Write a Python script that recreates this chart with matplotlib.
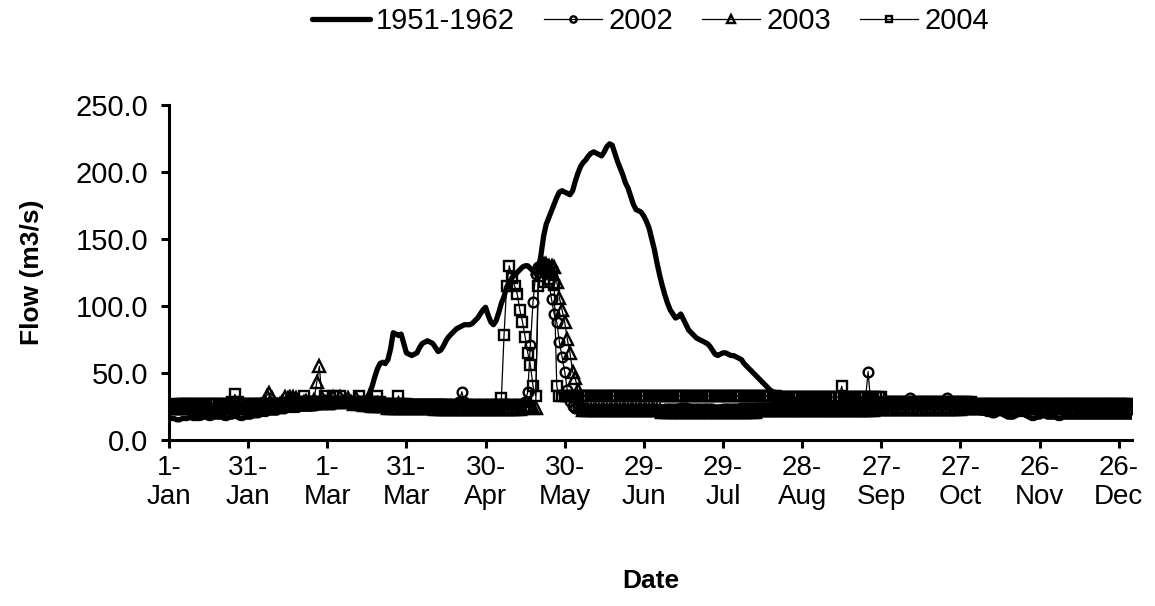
import matplotlib.pyplot as plt

# daily flow, 366 days (1-Jan .. 31-Dec), one row per month
flow_1951_1962 = (
    [17, 16, 16, 15, 15, 16, 16, 16, 17, 16, 16, 16, 16, 17, 17, 16, 16, 17, 17, 17, 17, 16, 16, 17, 17, 18, 17, 16, 16, 17, 17]
    + [17, 18, 18, 18, 19, 19, 19, 20, 20, 20, 20, 21, 21, 21, 22, 22, 22, 22, 22, 23, 23, 23, 23, 23, 24, 24, 24, 24, 25]
    + [25, 25, 25, 25, 26, 26, 26, 26, 26, 27, 27, 27, 28, 28, 29, 31, 35, 40, 47, 53, 57, 58, 57, 60, 68, 80, 79, 78, 79, 72, 65]
    + [64, 63, 64, 65, 69, 72, 73, 74, 73, 72, 69, 66, 67, 70, 74, 77, 79, 81, 83, 84, 85, 86, 86, 86, 87, 89, 91, 94, 97, 99]
    + [93, 88, 86, 89, 95, 102, 107, 114, 118, 121, 123, 125, 127, 129, 130, 130, 128, 126, 124, 126, 138, 152, 161, 166, 171, 176, 181, 185, 186, 185, 184]
    + [183, 186, 193, 199, 204, 207, 209, 212, 214, 215, 214, 213, 212, 215, 219, 221, 220, 214, 208, 203, 198, 192, 188, 182, 176, 172, 171, 170, 167, 163]
    + [158, 150, 142, 132, 123, 115, 108, 102, 97, 94, 91, 92, 94, 90, 86, 82, 80, 78, 76, 75, 74, 73, 72, 70, 67, 64, 63, 64, 65, 65, 64]
    + [63, 63, 62, 61, 60, 57, 55, 53, 51, 49, 47, 45, 43, 41, 39, 37, 36, 35, 34, 33, 32, 32, 31, 31, 30, 30, 30, 29, 29, 29, 29]
    + [29, 29, 29, 28, 28, 28, 28, 28, 28, 28, 28, 28, 28, 28, 28, 27, 27, 27, 27, 27, 27, 27, 27, 27, 27, 27, 27, 27, 27, 27]
    + [27, 27, 27, 27, 26, 26, 26, 26, 26, 26, 26, 26, 26, 25, 25, 25, 25, 25, 25, 25, 25, 24, 24, 24, 24, 24, 23, 23, 23, 23, 22]
    + [22, 21, 21, 20, 20, 19, 19, 18, 18, 19, 20, 19, 18, 17, 17, 17, 18, 19, 19, 19, 18, 17, 16, 16, 17, 17, 18, 18, 17, 17]
    + [17, 17, 16, 16, 17, 17, 17, 17, 17, 17, 17, 17, 17, 17, 17, 17, 17, 17, 17, 17, 17, 17, 17, 17, 17, 17, 17, 17, 17, 17, 17]
)

flow_2002 = (
    [27, 27, 26, 26, 26, 25, 25, 25, 25, 25, 24, 24, 24, 24, 24, 24, 24, 24, 24, 24, 25, 25, 25, 25, 25, 25, 25, 25, 25, 25, 25]
    + [25, 25, 25, 26, 26, 26, 26, 26, 26, 26, 26, 26, 26, 26, 26, 26, 26, 26, 26, 26, 26, 26, 26, 26, 26, 27, 27, 27, 27]
    + [27, 27, 27, 28, 28, 28, 28, 28, 28, 28, 28, 28, 28, 28, 28, 28, 28, 28, 28, 28, 27, 27, 27, 27, 27, 27, 27, 27, 27, 27, 27]
    + [27, 27, 27, 27, 27, 27, 27, 27, 27, 27, 27, 27, 27, 27, 27, 27, 27, 27, 27, 28, 36, 28, 27, 27, 27, 27, 27, 27, 27, 27]
    + [27, 27, 27, 27, 27, 27, 27, 27, 27, 27, 27, 27, 27, 27, 28, 36, 71, 103, 124, 129, 130, 128, 126, 118, 105, 94, 88, 73, 62, 51, 37]
    + [29, 25, 24, 24, 24, 23, 23, 23, 23, 23, 23, 23, 23, 23, 23, 23, 23, 23, 23, 23, 23, 23, 23, 23, 23, 23, 23, 23, 23, 23]
    + [23, 23, 23, 22, 22, 22, 23, 23, 23, 23, 23, 23, 24, 24, 24, 23, 23, 23, 23, 23, 23, 23, 23, 23, 23, 22, 22, 22, 23, 23, 23]
    + [23, 23, 23, 23, 24, 24, 24, 24, 24, 24, 24, 24, 24, 24, 24, 24, 24, 24, 24, 24, 24, 24, 24, 24, 24, 24, 24, 24, 24, 24, 24]
    + [24, 24, 24, 24, 24, 24, 24, 24, 24, 24, 24, 24, 24, 24, 24, 24, 24, 24, 24, 24, 30, 51, 28, 26, 26, 26, 26, 26, 27, 27]
    + [27, 27, 27, 27, 27, 27, 27, 31, 27, 27, 27, 27, 27, 27, 27, 27, 27, 27, 27, 27, 27, 31, 27, 27, 27, 26, 26, 26, 26, 26, 26]
    + [26, 26, 26, 26, 26, 26, 26, 26, 26, 26, 26, 26, 26, 26, 26, 26, 26, 26, 26, 26, 26, 26, 26, 26, 26, 26, 26, 26, 26, 26]
    + [26, 26, 26, 26, 26, 26, 26, 26, 26, 26, 26, 26, 26, 26, 26, 26, 26, 26, 26, 26, 26, 26, 26, 26, 26, 26, 26, 26, 26, 26, 26]
)

flow_2003 = (
    [24, 24, 24, 24, 24, 24, 24, 24, 24, 24, 24, 23, 23, 23, 23, 23, 23, 23, 23, 23, 24, 24, 24, 24, 24, 24, 24, 24, 24, 24, 24]
    + [24, 24, 25, 25, 26, 28, 33, 35, 31, 27, 26, 27, 28, 32, 31, 32, 32, 31, 28, 27, 28, 29, 28, 27, 30, 43, 55, 31, 28]
    + [28, 28, 32, 28, 28, 32, 28, 28, 31, 28, 27, 31, 27, 27, 26, 26, 26, 25, 25, 25, 25, 25, 25, 24, 24, 24, 24, 24, 24, 24, 24]
    + [24, 24, 24, 24, 24, 24, 24, 24, 24, 24, 23, 23, 23, 23, 23, 23, 23, 23, 23, 23, 23, 23, 23, 23, 23, 23, 23, 23, 23, 23]
    + [23, 23, 23, 23, 23, 23, 23, 23, 23, 23, 23, 23, 23, 24, 25, 26, 25, 24, 24, 128, 130, 131, 131, 130, 130, 129, 118, 106, 97, 88, 75]
    + [65, 51, 46, 37, 27, 22, 22, 22, 22, 22, 22, 22, 22, 22, 22, 22, 22, 22, 22, 22, 22, 22, 22, 22, 22, 22, 22, 22, 22, 22]
    + [22, 22, 22, 22, 22, 21, 21, 21, 21, 21, 21, 21, 21, 21, 21, 21, 21, 21, 21, 21, 21, 21, 21, 21, 21, 21, 21, 21, 21, 21, 21]
    + [21, 21, 21, 21, 21, 21, 21, 21, 21, 21, 22, 22, 22, 22, 22, 22, 22, 22, 22, 22, 22, 22, 22, 22, 22, 22, 22, 22, 22, 22, 22]
    + [22, 22, 22, 22, 22, 22, 22, 22, 22, 22, 22, 22, 22, 22, 22, 22, 22, 22, 22, 22, 22, 22, 22, 22, 23, 23, 23, 23, 23, 23]
    + [23, 23, 23, 23, 23, 23, 23, 23, 23, 23, 23, 23, 23, 23, 23, 23, 23, 23, 23, 23, 23, 23, 23, 23, 23, 23, 23, 24, 24, 24, 24]
    + [24, 24, 24, 24, 24, 24, 24, 24, 24, 24, 24, 24, 24, 24, 24, 24, 24, 24, 24, 24, 24, 24, 24, 24, 24, 24, 24, 24, 24, 24]
    + [24, 24, 24, 24, 24, 24, 24, 24, 24, 24, 24, 24, 24, 24, 24, 24, 24, 24, 24, 24, 24, 24, 24, 24, 24, 24, 24, 24, 24, 24, 24]
)

flow_2004 = (
    [26, 26, 26, 27, 27, 27, 27, 27, 27, 27, 27, 27, 27, 27, 27, 27, 27, 27, 27, 27, 27, 27, 27, 27, 28, 34, 28, 27, 27, 27, 27]
    + [27, 27, 27, 27, 27, 27, 27, 27, 27, 27, 27, 27, 27, 27, 27, 27, 27, 27, 28, 28, 33, 28, 28, 28, 28, 28, 28, 28, 33]
    + [28, 28, 33, 28, 28, 33, 28, 28, 28, 28, 28, 28, 33, 28, 28, 28, 28, 28, 28, 33, 28, 27, 27, 27, 27, 27, 27, 33, 27, 27, 27]
    + [26, 26, 26, 26, 26, 26, 26, 26, 26, 26, 26, 26, 26, 26, 26, 25, 25, 25, 25, 25, 25, 25, 25, 25, 25, 25, 25, 25, 25, 25]
    + [25, 25, 25, 25, 26, 31, 78, 115, 130, 121, 115, 109, 97, 88, 77, 65, 56, 40, 33, 115, 125, 118, 126, 120, 125, 116, 40, 33, 33, 33, 33]
    + [33, 33, 33, 33, 33, 33, 33, 33, 33, 33, 33, 33, 33, 33, 33, 33, 33, 33, 33, 33, 33, 33, 33, 33, 33, 33, 33, 33, 33, 33]
    + [33, 33, 33, 33, 33, 33, 33, 33, 33, 33, 33, 33, 33, 33, 33, 33, 33, 33, 33, 33, 33, 33, 33, 33, 33, 33, 33, 33, 33, 33, 33]
    + [33, 33, 33, 33, 33, 33, 33, 33, 33, 33, 33, 33, 33, 33, 33, 33, 33, 33, 32, 32, 32, 32, 32, 32, 32, 32, 32, 32, 32, 32, 32]
    + [32, 32, 32, 32, 32, 32, 32, 32, 32, 32, 32, 40, 32, 32, 32, 32, 32, 32, 32, 32, 32, 32, 32, 32, 32, 32, 32, 28, 28, 28]
    + [28, 28, 28, 28, 28, 28, 28, 28, 28, 28, 28, 28, 28, 28, 28, 28, 28, 28, 28, 28, 28, 28, 28, 28, 28, 28, 28, 28, 28, 28, 28]
    + [27, 27, 27, 27, 27, 27, 27, 27, 27, 27, 27, 27, 27, 27, 27, 27, 27, 27, 27, 27, 27, 27, 27, 27, 27, 27, 27, 27, 27, 27]
    + [27, 27, 27, 27, 27, 27, 27, 27, 27, 27, 27, 27, 27, 27, 27, 27, 27, 27, 27, 27, 27, 27, 27, 27, 27, 27, 27, 27, 27, 27, 26]
)

series_names = ['1951-1962', '2002', '2003', '2004']
series_markers = [None, 'o', '^', 's']
marker_sizes = [0, 7, 8, 6.5]

tick_days = [0, 30, 60, 90, 120, 150, 180, 210, 240, 270, 300, 330, 360]
tick_labels = ['1-\nJan', '31-\nJan', '1-\nMar', '31-\nMar', '30-\nApr', '30-\nMay', '29-\nJun',
               '29-\nJul', '28-\nAug', '27-\nSep', '27-\nOct', '26-\nNov', '26-\nDec']
y_ticks = [0, 50, 100, 150, 200, 250]

plt.rcParams['font.family'] = ['Liberation Sans', 'DejaVu Sans']


def draw_series(axes):
    all_series = [flow_1951_1962, flow_2002, flow_2003, flow_2004]
    for name, marker, size, values in zip(series_names, series_markers, marker_sizes, all_series):
        days = list(range(len(values)))
        if marker is None:
            axes.plot(days, values, color='black', linewidth=3.8, label=name,
                      solid_joinstyle='round', solid_capstyle='round')
        else:
            axes.plot(days, values, color='black', linewidth=0.9, marker=marker,
                      markersize=size, markerfacecolor='none', markeredgecolor='black',
                      markeredgewidth=1.7, label=name)


def setup_axes(axes):
    axes.set_xlim(0, 365)
    axes.set_ylim(0, 250)
    axes.set_xticks(tick_days)
    axes.set_xticklabels(tick_labels, fontsize=20, linespacing=1.15)
    axes.set_yticks(y_ticks)
    axes.set_yticklabels(['%.1f' % v for v in y_ticks], fontsize=21)
    for side in ['top', 'right']:
        axes.spines[side].set_visible(False)
    for side in ['left', 'bottom']:
        axes.spines[side].set_linewidth(2.2)
    axes.tick_params(width=2.2, length=6, pad=5)
    axes.tick_params(axis='y', pad=9)
    axes.set_xlabel('Date', fontsize=19, fontweight='bold')
    axes.xaxis.set_label_coords(0.5, -0.385)
    axes.set_ylabel('Flow (m3/s)', fontsize=19, fontweight='bold')
    axes.yaxis.set_label_coords(-0.13, 0.5)


def main():
    fig = plt.figure(figsize=(11.55, 6.06), dpi=100)
    axes = fig.add_axes([0.1463, 0.274, 0.8337, 0.5528])
    draw_series(axes)
    setup_axes(axes)
    fig.legend(loc='center', bbox_to_anchor=(0.563, 0.965), ncol=4, frameon=False,
               fontsize=21, handlelength=2.0, handletextpad=0.2, columnspacing=1.0,
               markerscale=0.65)
    fig.savefig('out.png', dpi=100)


if __name__ == '__main__':
    main()
